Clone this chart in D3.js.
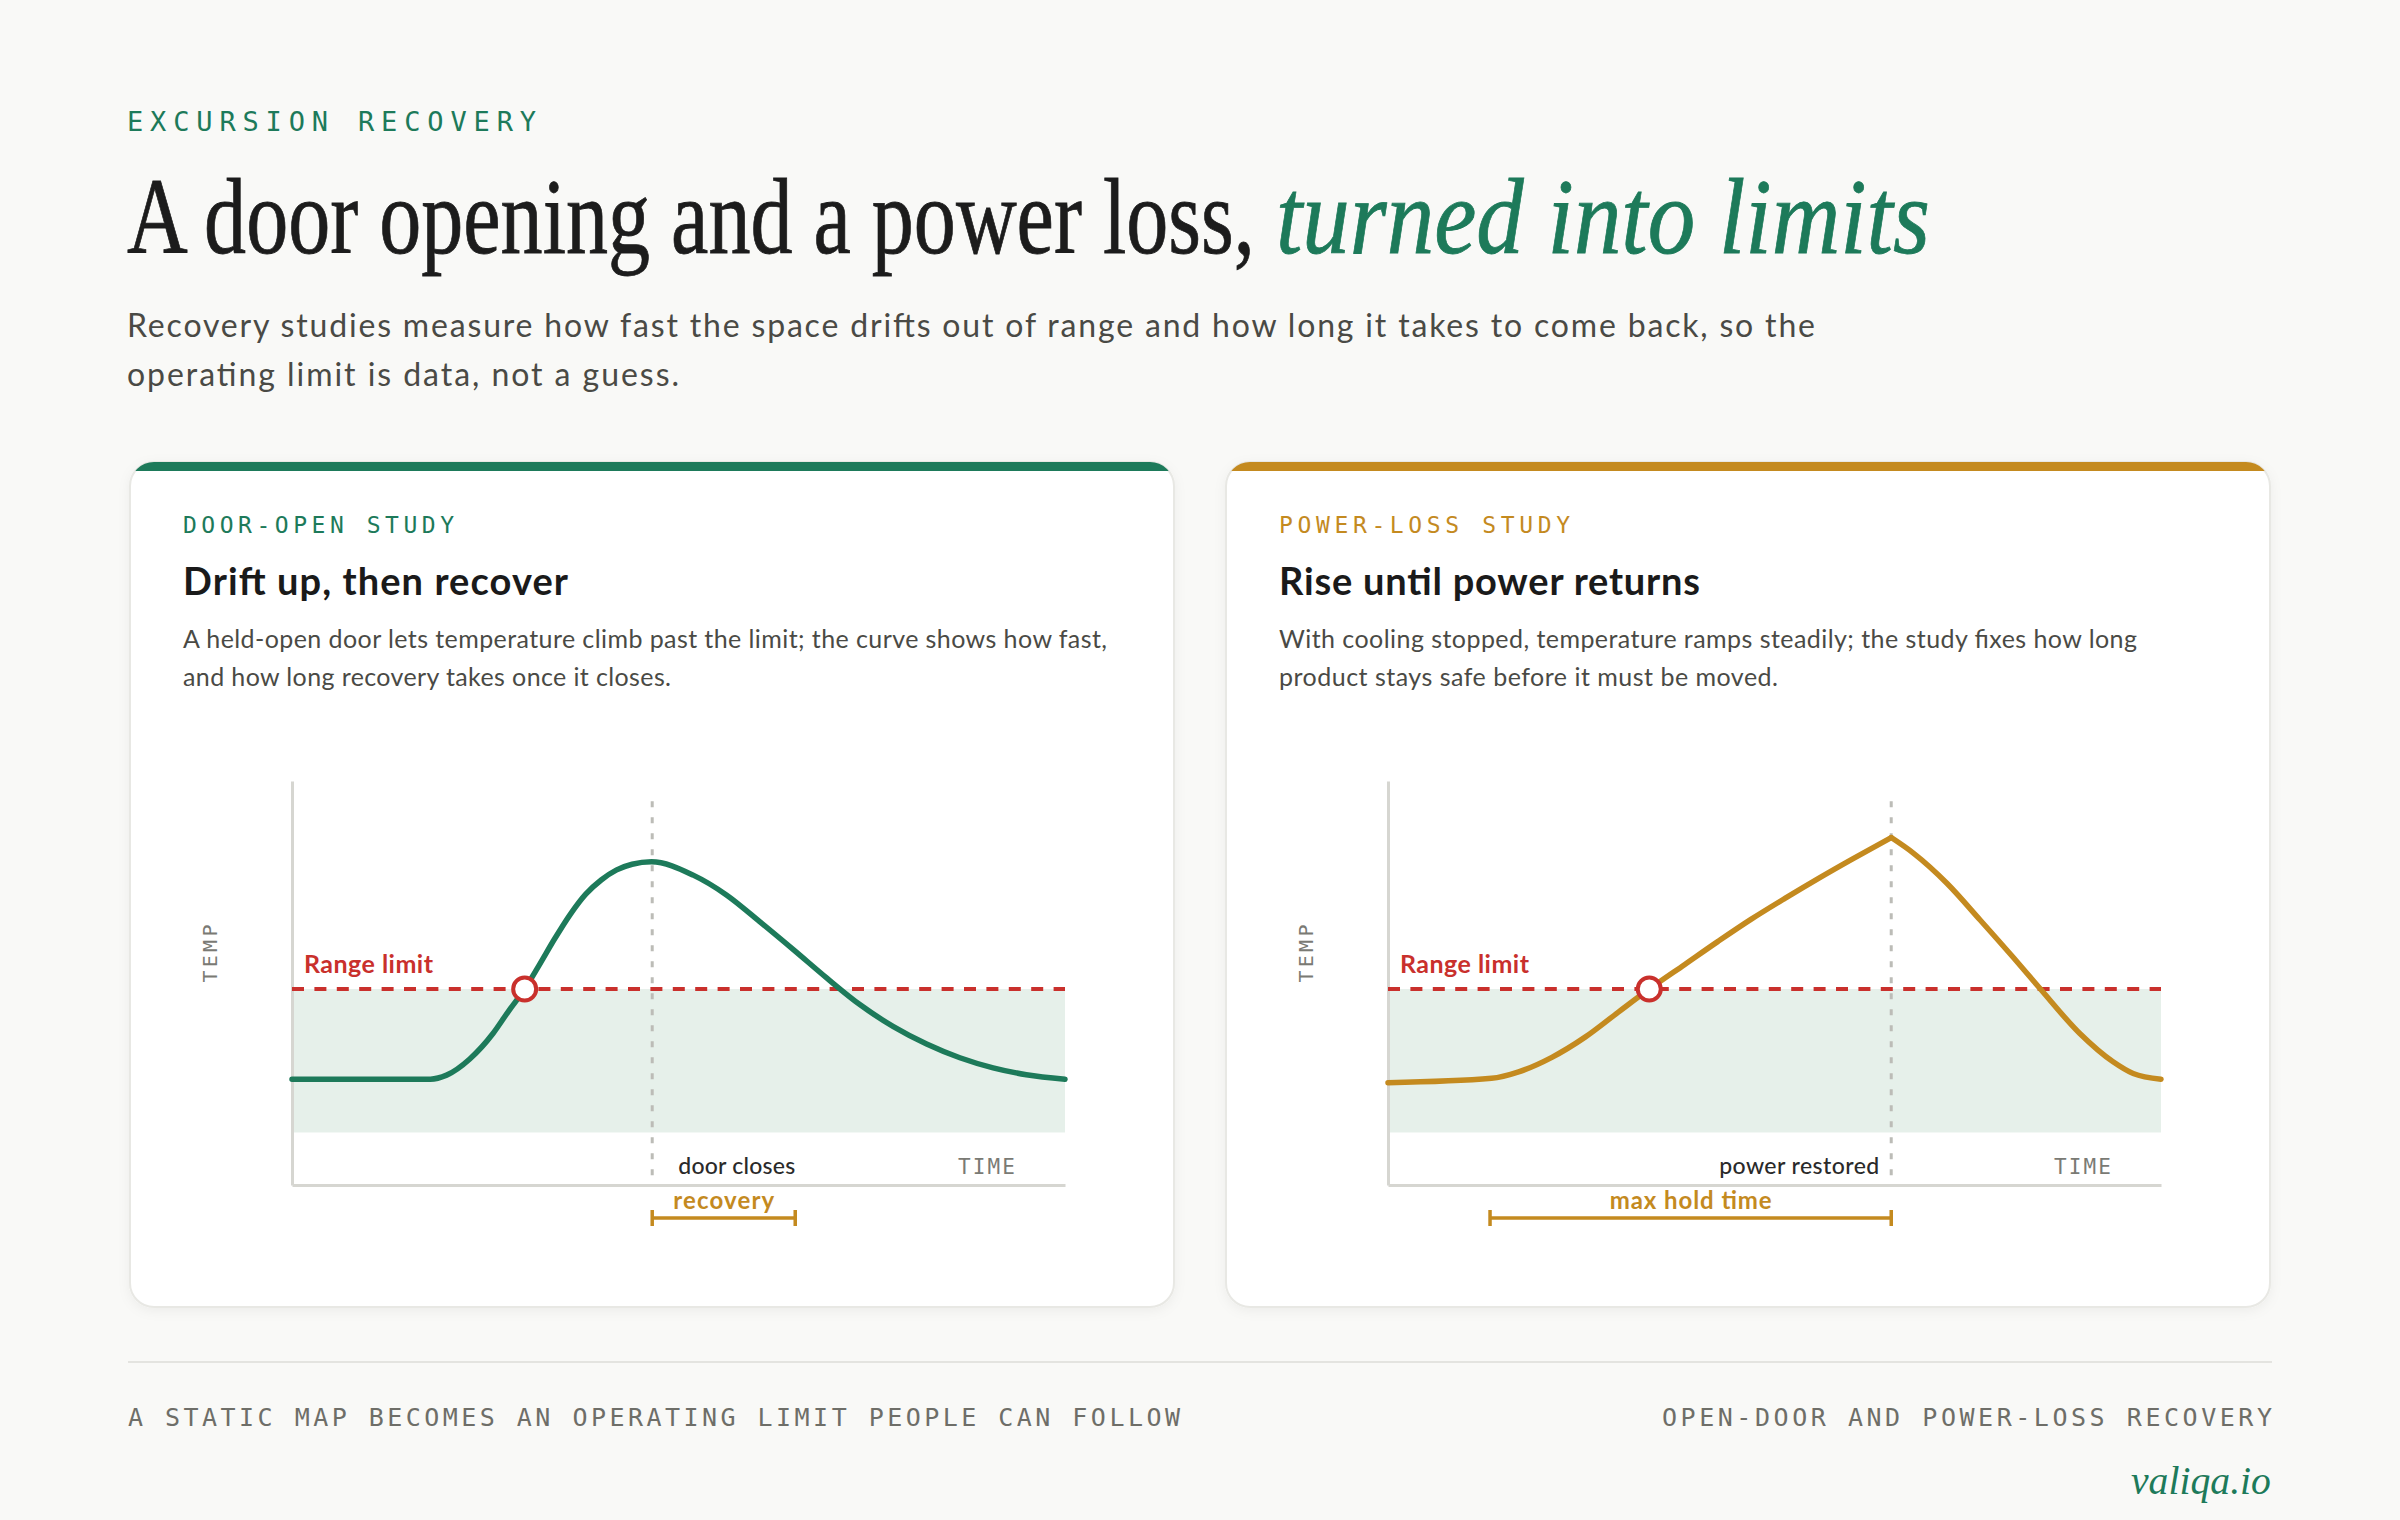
<!DOCTYPE html>
<html>
<head>
<meta charset="utf-8">
<script src="https://cdn.jsdelivr.net/npm/d3@7"></script>
<style>
  html, body { margin: 0; background: #f9f9f7; }
  svg { display: block; }
</style>
</head>
<body>
<svg id="chart" width="2400" height="1520"></svg>
<script>
// panel texts
const eyebrows = ["DOOR-OPEN STUDY", "POWER-LOSS STUDY"];
const headings = ["Drift up, then recover", "Rise until power returns"];
const descLines = [
  ["A held-open door lets temperature climb past the limit; the curve shows how fast,", "and how long recovery takes once it closes."],
  ["With cooling stopped, temperature ramps steadily; the study fixes how long", "product stays safe before it must be moved."]
];

// curves: time 0-100, temperature 0-100 (relative, the picture has no units)
const doorTime = [0, 17.9, 20, 23, 26, 28, 30.1, 32, 34, 36, 38, 40, 42, 44, 46.5, 51.9, 56.2, 60.5, 64.9, 69.2, 73.5, 77.8, 82.1, 86.4, 90.7, 95, 100];
const doorTemp = [26.2, 26.2, 27.2, 31.2, 37.5, 43, 48.5, 54.5, 61, 67, 72, 75.5, 78, 79.4, 80, 76.7, 71.8, 65.2, 58.2, 51.2, 44.6, 39.2, 34.9, 31.5, 29, 27.3, 26.2];
const powerTime = [0, 13.4, 16.9, 21.2, 25.5, 29.8, 33.8, 38.4, 42.7, 47, 51.4, 55.7, 60, 65.1, 68, 72.3, 76.6, 80.9, 84.4, 89.5, 93.8, 96.4, 100];
const powerTemp = [25.3, 26.4, 28, 31.6, 36.6, 42.8, 48.5, 54.6, 60.3, 65.8, 71, 75.9, 80.6, 86, 82.1, 74.7, 65.6, 56.3, 48.5, 37.5, 30.5, 27.6, 26.2];

const rangeLimit = 48.5;
const bandFloor = 13;
const crossTimes = [30.1, 33.8];
const eventTimes = [46.6, 65.1];
const eventLabels = ["door closes", "power restored"];
const spanStart = [46.6, 13.2];
const spanEnd = [65.1, 65.1];
const spanLabels = ["recovery", "max hold time"];

// look
const GREEN = "#1d7a5a", GOLD = "#c48a1f", RED = "#c9302c";
const SERIF = "'Liberation Serif', serif";
const SANS = "Lato, 'Noto Sans', sans-serif";
const MONO = "'DejaVu Sans Mono', monospace";

const svg = d3.select("#chart");

function label(g, str, o) {
  const t = g.append("text")
    .attr("x", o.x).attr("y", o.y)
    .attr("font-family", o.font || SANS)
    .attr("font-size", o.size)
    .attr("font-weight", o.weight || 400)
    .attr("font-style", o.style || "normal")
    .attr("fill", o.fill || "#1c1c1c")
    .attr("text-anchor", o.anchor || "start")
    .text(str);
  if (o.len) t.attr("textLength", o.len).attr("lengthAdjust", "spacing");
  if (o.transform) t.attr("transform", o.transform);
  return t;
}

// squeeze a text horizontally to a width (stands in for a condensed face)
function fit(t, x, y, width) {
  const w = t.node().getComputedTextLength();
  t.attr("x", 0).attr("y", 0).attr("transform", `translate(${x},${y}) scale(${width / w},1)`);
  return t;
}

const defs = svg.append("defs");
const sh = defs.append("filter").attr("id", "shadow")
  .attr("x", "-5%").attr("y", "-5%").attr("width", "110%").attr("height", "115%");
sh.append("feDropShadow").attr("dx", 0).attr("dy", 3).attr("stdDeviation", 6)
  .attr("flood-color", "#000").attr("flood-opacity", 0.05);

// header
label(svg, "EXCURSION RECOVERY", { x: 127, y: 131, font: MONO, size: 27, weight: 500, fill: GREEN, len: 409 });
fit(label(svg, "A door opening and a power loss,", { x: 0, y: 0, font: SERIF, size: 108, fill: "#1c1c1c" })
  .attr("stroke", "#1c1c1c").attr("stroke-width", 0.8), 127, 253, 1128);
fit(label(svg, "turned into limits", { x: 0, y: 0, font: SERIF, size: 108, style: "italic", fill: GREEN })
  .attr("stroke", GREEN).attr("stroke-width", 0.8), 1276, 253, 654);
label(svg, "Recovery studies measure how fast the space drifts out of range and how long it takes to come back, so the",
  { x: 127, y: 337, size: 32, fill: "#4a4a45", len: 1688 });
label(svg, "operating limit is data, not a guess.", { x: 127, y: 386, size: 32, fill: "#4a4a45", len: 552 });

// panels
const cardX = [130, 1226];
const cardY = 462, cardW = 1044, cardH = 845;
const accents = [GREEN, GOLD];
const series = [
  doorTime.map((t, i) => ({ t, v: doorTemp[i] })),
  powerTime.map((t, i) => ({ t, v: powerTemp[i] }))
];
const eyebrowLen = [271, 291];
const headingLen = [385, 421];
const descLen = [[924, 488], [858, 499]];
const eventAnchor = ["start", "end"];
const eventLabelLen = [117, 160];
const spanLabelLen = [101, 162];

cardX.forEach((cx, i) => {
  const g = svg.append("g");
  const acc = accents[i];

  defs.append("clipPath").attr("id", "clip" + i)
    .append("rect").attr("x", cx).attr("y", cardY).attr("width", cardW).attr("height", cardH).attr("rx", 24);
  g.append("rect").attr("x", cx).attr("y", cardY).attr("width", cardW).attr("height", cardH).attr("rx", 24)
    .attr("fill", "#fff").attr("stroke", "#e8e8e4").attr("stroke-width", 2).attr("filter", "url(#shadow)");
  g.append("rect").attr("clip-path", `url(#clip${i})`)
    .attr("x", cx).attr("y", cardY).attr("width", cardW).attr("height", 9).attr("fill", acc);

  label(g, eyebrows[i], { x: cx + 53, y: 533, font: MONO, size: 23, weight: 500, fill: acc, len: eyebrowLen[i] });
  label(g, headings[i], { x: cx + 53, y: 595, size: 38, weight: 700, fill: "#1a1a1a", len: headingLen[i] });
  descLines[i].forEach((ln, j) => {
    label(g, ln, { x: cx + 53, y: 648 + j * 38, size: 25, fill: "#4a4a45", len: descLen[i][j] });
  });

  // chart
  const x = d3.scaleLinear().domain([0, 100]).range([cx + 162, cx + 935]);
  const y = d3.scaleLinear().domain([0, 100]).range([1185, 781]);

  g.append("rect")
    .attr("x", x(0)).attr("y", y(rangeLimit))
    .attr("width", x(100) - x(0)).attr("height", y(bandFloor) - y(rangeLimit))
    .attr("fill", "#e6f0ea");

  const xAxis = g.append("g").attr("transform", `translate(0,${y(0)})`)
    .call(d3.axisBottom(x).tickValues([]).tickSizeOuter(0));
  const yAxis = g.append("g").attr("transform", `translate(${x(0)},0)`)
    .call(d3.axisLeft(y).tickValues([]).tickSizeOuter(0));
  [xAxis, yAxis].forEach(a => a.select(".domain").attr("stroke", "#d6d6d1").attr("stroke-width", 3));

  // event line
  g.append("line")
    .attr("x1", x(eventTimes[i])).attr("x2", x(eventTimes[i]))
    .attr("y1", y(95)).attr("y2", y(0))
    .attr("stroke", "#bcbcb7").attr("stroke-width", 3).attr("stroke-dasharray", "6 10");

  // limit line
  g.append("line")
    .attr("x1", x(0)).attr("x2", x(100))
    .attr("y1", y(rangeLimit)).attr("y2", y(rangeLimit))
    .attr("stroke", RED).attr("stroke-width", 4).attr("stroke-dasharray", "12 10.4");

  // curve: split at the peak so the power-loss corner stays sharp
  const data = series[i];
  const peak = d3.maxIndex(data, d => d.v);
  const line = d3.line().x(d => x(d.t)).y(d => y(d.v)).curve(d3.curveMonotoneX);
  const parts = i === 0 ? [data] : [data.slice(0, peak + 1), data.slice(peak)];
  parts.forEach(p => {
    g.append("path").attr("d", line(p))
      .attr("fill", "none").attr("stroke", acc).attr("stroke-width", 5.5)
      .attr("stroke-linecap", "round").attr("stroke-linejoin", "round");
  });

  g.append("circle")
    .attr("cx", x(crossTimes[i])).attr("cy", y(rangeLimit)).attr("r", 11.5)
    .attr("fill", "#fff").attr("stroke", RED).attr("stroke-width", 4);

  label(g, "Range limit", { x: x(0) + 12, y: y(rangeLimit) - 16, size: 25, weight: 700, fill: RED, len: 129 });
  label(g, "TEMP", { x: 0, y: 0, font: MONO, size: 20, fill: "#7a7a74", anchor: "middle", len: 58,
    transform: `translate(${x(0) - 75},${y(57.3)}) rotate(-90)` });

  const ex = eventAnchor[i] === "start" ? x(eventTimes[i]) + 26 : x(eventTimes[i]) - 12;
  label(g, eventLabels[i], { x: ex, y: 1174, size: 23, weight: 500, fill: "#2a2a2a", anchor: eventAnchor[i], len: eventLabelLen[i] });
  label(g, "TIME", { x: x(100) - 50, y: 1174, font: MONO, size: 21, fill: "#7a7a74", anchor: "end", len: 57 });

  // span bracket
  const s0 = x(spanStart[i]), s1 = x(spanEnd[i]), by = 1218;
  g.append("line").attr("x1", s0).attr("x2", s1).attr("y1", by).attr("y2", by)
    .attr("stroke", GOLD).attr("stroke-width", 3.5);
  [s0, s1].forEach(sx => g.append("line").attr("x1", sx).attr("x2", sx).attr("y1", by - 8).attr("y2", by + 8)
    .attr("stroke", GOLD).attr("stroke-width", 3.5));
  label(g, spanLabels[i], { x: (s0 + s1) / 2, y: 1209, size: 24, weight: 700, fill: GOLD, anchor: "middle", len: spanLabelLen[i] });
});

// footer
svg.append("line").attr("x1", 128).attr("x2", 2272).attr("y1", 1362).attr("y2", 1362)
  .attr("stroke", "#e4e4e0").attr("stroke-width", 2);
label(svg, "A STATIC MAP BECOMES AN OPERATING LIMIT PEOPLE CAN FOLLOW", { x: 128, y: 1426, font: MONO, size: 25, fill: "#6e6e68", len: 1052 });
label(svg, "OPEN-DOOR AND POWER-LOSS RECOVERY", { x: 2272, y: 1426, font: MONO, size: 25, fill: "#6e6e68", anchor: "end", len: 610 });
fit(label(svg, "valiqa.io", { x: 0, y: 0, font: SERIF, size: 40, style: "italic", fill: GREEN }), 2131, 1494, 140);
</script>
</body>
</html>
